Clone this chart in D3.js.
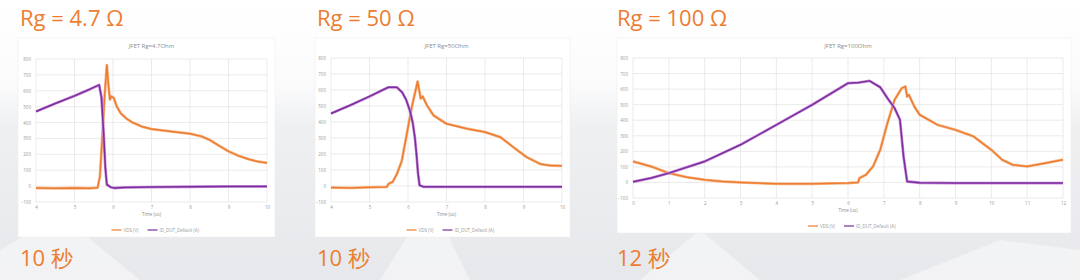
<!DOCTYPE html>
<html>
<head>
<meta charset="utf-8">
<script src="https://cdn.jsdelivr.net/npm/d3@7"></script>
<style>
  body { margin: 0; background: #fff; }
  svg { display: block; }
</style>
</head>
<body>
<div id="chart"></div>
<script>
// values (time in us, VDS in V, ID in A)
var panelTitles = ["Rg = 4.7 \u03A9", "Rg = 50 \u03A9", "Rg = 100 \u03A9"];
var durationLabels = ["10 \u79D2", "10 \u79D2", "12 \u79D2"];
var chartTitles = ["JFET Rg=4.7Ohm", "JFET Rg=50Ohm", "JFET Rg=100Ohm"];
var seriesNames = ["VDS (V)", "ID_DUT_Default (A)"];
var yTicks = [-100, 0, 100, 200, 300, 400, 500, 600, 700, 800];
var xTicksShort = [4, 5, 6, 7, 8, 9, 10];
var xTicksLong = [0, 1, 2, 3, 4, 5, 6, 7, 8, 9, 10, 11, 12];

var vds47 = [[4, -12], [4.5, -14], [5, -12], [5.4, -14], [5.6, -10], [5.66, 60], [5.72, 300], [5.78, 560],
  [5.84, 762], [5.88, 640], [5.92, 545], [5.96, 565], [6.02, 555], [6.1, 500], [6.2, 459], [6.35, 425],
  [6.5, 401], [6.75, 375], [7, 359], [7.5, 344], [8, 330], [8.3, 313], [8.5, 292], [8.75, 255],
  [9, 219], [9.25, 192], [9.5, 171], [9.75, 155], [10, 146]];
var id47 = [[4, 470], [4.5, 520], [5, 568], [5.4, 610], [5.64, 637], [5.7, 560], [5.76, 320], [5.8, 120],
  [5.84, 10], [5.95, -8], [6.05, -12], [6.3, -8], [7, -6], [8, -4], [9, -2], [10, -2]];

var vds50 = [[4, -10], [4.5, -12], [5, -8], [5.45, -6], [5.5, 15], [5.6, 25], [5.71, 74], [5.84, 158],
  [5.97, 326], [6.1, 495], [6.25, 653], [6.33, 547], [6.38, 560], [6.49, 505], [6.66, 442], [7, 389],
  [7.53, 358], [8, 337], [8.4, 305], [8.74, 242], [9.09, 179], [9.44, 137], [9.7, 128], [10, 126]];
var id50 = [[4, 453], [4.5, 505], [5, 560], [5.49, 617], [5.71, 617], [5.85, 585], [5.95, 540], [6.05, 470],
  [6.12, 400], [6.18, 300], [6.22, 200], [6.26, 80], [6.3, 5], [6.4, -5], [7, -5], [8, -5], [9, -5], [10, -5]];

var vds100 = [[0, 135], [0.5, 103], [1, 60], [1.5, 34], [2, 17], [2.5, 6], [3, 0], [4, -9], [5, -9], [6, -4],
  [6.28, 0], [6.32, 28], [6.5, 49], [6.7, 103], [6.9, 210], [7.1, 381], [7.3, 531], [7.5, 606], [7.6, 617],
  [7.65, 552], [7.7, 563], [7.85, 488], [8, 435], [8.5, 370], [9, 338], [9.5, 296], [10, 210], [10.3, 146],
  [10.6, 113], [11, 103], [11.5, 124], [12, 146]];
var id100 = [[0, 4], [0.5, 28], [1, 60], [2, 135], [3, 242], [4, 370], [5, 499], [6, 638], [6.3, 642],
  [6.6, 653], [6.9, 612], [7.1, 542], [7.3, 478], [7.45, 403], [7.55, 167], [7.65, 6], [8, -2], [9, -4],
  [10, -4], [11, -4], [12, -4]];

var W = 1080, H = 280;
var orange = "#ED7D31", purple = "#7A2F9E";

var svg = d3.select("#chart").append("svg")
  .attr("width", W).attr("height", H);

// backdrop: white fading into pale grey
var defs = svg.append("defs");
var grad = defs.append("linearGradient").attr("id", "bg")
  .attr("x1", 0).attr("y1", 0).attr("x2", 0).attr("y2", 1);
grad.append("stop").attr("offset", "0%").attr("stop-color", "#ffffff");
grad.append("stop").attr("offset", "30%").attr("stop-color", "#fbfbfc");
grad.append("stop").attr("offset", "45%").attr("stop-color", "#eef0f2");
grad.append("stop").attr("offset", "100%").attr("stop-color", "#e6e8eb");
svg.append("rect").attr("width", W).attr("height", H).attr("fill", "url(#bg)");

// a few soft light streaks in the backdrop
var streaks = [
  "M0,250 L60,215 L140,280 L0,280 Z",
  "M380,280 L430,200 L470,280 Z",
  "M640,280 L700,230 L760,280 Z",
  "M900,280 L1000,240 L1080,250 L1080,280 Z"
];
svg.selectAll(".streak").data(streaks).enter().append("path")
  .attr("d", function(d) { return d; })
  .attr("fill", "#f6f7f8").attr("opacity", 0.7);

var panels = [
  { frame: {x: 18, y: 38, w: 257, h: 199}, plot: {l: 36, r: 267, t: 59, b: 202},
    xDomain: [4, 10], xTicks: xTicksShort, vds: vds47, id: id47, tx: 20, labY: 208, axY: 216, legY: 230 },
  { frame: {x: 315, y: 38, w: 255, h: 199}, plot: {l: 331, r: 562, t: 58, b: 202},
    xDomain: [4, 10], xTicks: xTicksShort, vds: vds50, id: id50, tx: 317, labY: 208, axY: 216, legY: 230 },
  { frame: {x: 617, y: 38, w: 454, h: 195}, plot: {l: 633, r: 1063, t: 58, b: 198},
    xDomain: [0, 12], xTicks: xTicksLong, vds: vds100, id: id100, tx: 617, labY: 204, axY: 212, legY: 226 }
];

panels.forEach(function(p, i) {
  var g = svg.append("g");

  // orange heading and duration
  g.append("text").attr("x", p.tx).attr("y", 26)
    .attr("font-family", "Open Sans").attr("font-size", 22).attr("font-weight", 500)
    .attr("fill", orange).text(panelTitles[i]);
  g.append("text").attr("x", p.tx).attr("y", 266)
    .attr("font-family", "Open Sans").attr("font-size", 22).attr("font-weight", 500)
    .attr("fill", orange).text(durationLabels[i]);

  // white chart screenshot
  g.append("rect").attr("x", p.frame.x).attr("y", p.frame.y)
    .attr("width", p.frame.w).attr("height", p.frame.h)
    .attr("fill", "#ffffff").attr("stroke", "#ececec").attr("stroke-width", 0.5);

  var x = d3.scaleLinear().domain(p.xDomain).range([p.plot.l, p.plot.r]);
  var y = d3.scaleLinear().domain([-100, 800]).range([p.plot.b, p.plot.t]);

  // grid
  g.append("g").selectAll("line").data(yTicks).enter().append("line")
    .attr("x1", p.plot.l).attr("x2", p.plot.r)
    .attr("y1", function(d) { return y(d); }).attr("y2", function(d) { return y(d); })
    .attr("stroke", "#e2e2e2").attr("stroke-width", 0.7);
  g.append("g").selectAll("line").data(p.xTicks).enter().append("line")
    .attr("x1", function(d) { return x(d); }).attr("x2", function(d) { return x(d); })
    .attr("y1", p.plot.t).attr("y2", p.plot.b)
    .attr("stroke", "#e2e2e2").attr("stroke-width", 0.7);

  // axes, tiny grey labels
  var yAxis = d3.axisLeft(y).tickValues(yTicks).tickSize(0).tickPadding(5).tickFormat(d3.format("d"));
  var xAxis = d3.axisBottom(x).tickValues(p.xTicks).tickSize(0).tickPadding(4).tickFormat(d3.format("d"));
  var ya = g.append("g").attr("transform", "translate(" + p.plot.l + ",0)").call(yAxis);
  var xa = g.append("g").attr("transform", "translate(0," + (p.labY - 6) + ")").call(xAxis);
  [ya, xa].forEach(function(a) {
    a.select(".domain").remove();
    a.selectAll("text").attr("font-family", "Open Sans").attr("font-size", 4.5).attr("fill", "#9a9a9a");
  });

  g.append("text").attr("x", (p.plot.l + p.plot.r) / 2).attr("y", 48)
    .attr("text-anchor", "middle").attr("font-family", "Open Sans").attr("font-size", 6)
    .attr("fill", "#8c8c8c").text(chartTitles[i]);
  g.append("text").attr("x", (p.plot.l + p.plot.r) / 2).attr("y", p.axY)
    .attr("text-anchor", "middle").attr("font-family", "Open Sans").attr("font-size", 4.5)
    .attr("fill", "#8c8c8c").text("Time (us)");

  // traces: light halo underneath, darker core on top
  var line = d3.line().x(function(d) { return x(d[0]); }).y(function(d) { return y(d[1]); });
  [[p.vds, "#F6B98C", orange], [p.id, "#C98BD8", purple]].forEach(function(s) {
    g.append("path").datum(s[0]).attr("d", line).attr("fill", "none")
      .attr("stroke", s[1]).attr("stroke-width", 2.8).attr("stroke-linejoin", "round");
    g.append("path").datum(s[0]).attr("d", line).attr("fill", "none")
      .attr("stroke", s[2]).attr("stroke-width", 1.5).attr("stroke-linejoin", "round");
  });

  // legend
  var cx = (p.plot.l + p.plot.r) / 2;
  var leg = g.append("g").attr("transform", "translate(" + (cx - 40) + "," + p.legY + ")");
  leg.append("line").attr("x1", 0).attr("x2", 10).attr("y1", 0).attr("y2", 0)
    .attr("stroke", orange).attr("stroke-width", 1.2);
  leg.append("text").attr("x", 12).attr("y", 1.5).attr("font-family", "Open Sans")
    .attr("font-size", 4.5).attr("fill", "#9a9a9a").text(seriesNames[0]);
  leg.append("line").attr("x1", 36).attr("x2", 46).attr("y1", 0).attr("y2", 0)
    .attr("stroke", purple).attr("stroke-width", 1.2);
  leg.append("text").attr("x", 48).attr("y", 1.5).attr("font-family", "Open Sans")
    .attr("font-size", 4.5).attr("fill", "#9a9a9a").text(seriesNames[1]);
});
</script>
</body>
</html>
